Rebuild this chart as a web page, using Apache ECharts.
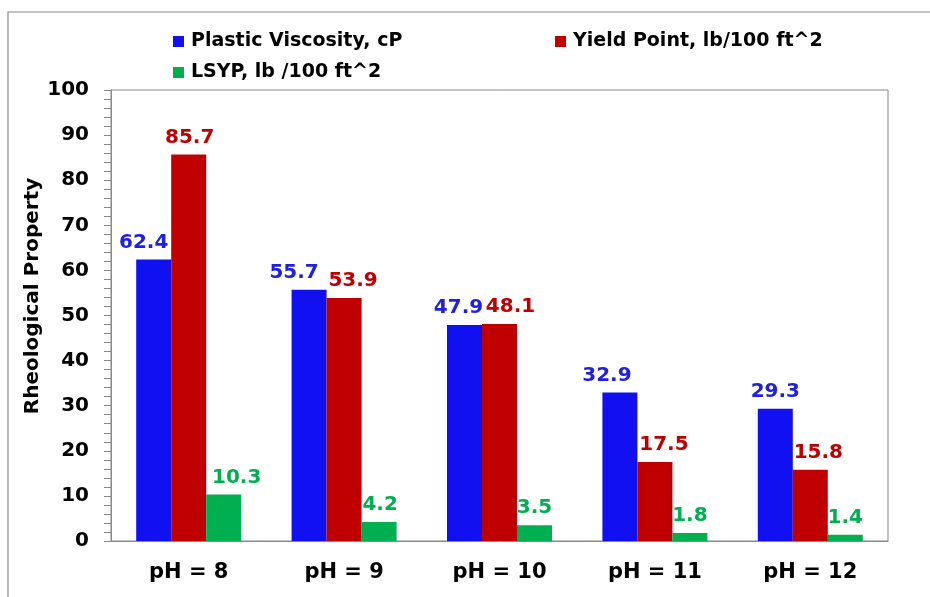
<!DOCTYPE html>
<html>
<head>
<meta charset="utf-8">
<script src="https://cdn.jsdelivr.net/npm/echarts@6/dist/echarts.min.js"></script>
<style>
  html, body { margin: 0; padding: 0; background: #fff; }
  #chart { width: 930px; height: 597px; }
</style>
</head>
<body>
<div id="chart"></div>
<script>
// Rheological properties of the mud at different pH levels
const categories = ['pH = 8', 'pH = 9', 'pH = 10', 'pH = 11', 'pH = 12'];
const plasticViscosity = [62.4, 55.7, 47.9, 32.9, 29.3];
const yieldPoint = [85.7, 53.9, 48.1, 17.5, 15.8];
const lsyp = [10.3, 4.2, 3.5, 1.8, 1.4];
const yTicks = [0, 10, 20, 30, 40, 50, 60, 70, 80, 90, 100];

const seriesNames = ['Plastic Viscosity, cP', 'Yield Point, lb/100 ft^2', 'LSYP, lb /100 ft^2'];
const colors = ['#1010F0', '#C00000', '#00B050'];
const labelColors = ['#2020E0', '#C00000', '#00B050'];
// horizontal nudges so neighbouring value labels do not collide
const labelShift = [
  [-10, -15, -6, -13, 0],
  [1, 9, 11, 9, 8],
  [13, 1, 0, 0, 0]
];
const FONT = 'DejaVu Sans';

const chart = echarts.init(document.getElementById('chart'));

function barSeries(i, values) {
  return {
    name: seriesNames[i],
    type: 'bar',
    data: values.map((v, k) => ({ value: v, label: { offset: [labelShift[i][k], 0] } })),
    barWidth: 35,
    barGap: '0%',
    itemStyle: { color: colors[i] },
    label: {
      show: true,
      position: 'top',
      distance: 7,
      color: labelColors[i],
      fontFamily: FONT,
      fontWeight: 'bold',
      fontSize: 20,
      formatter: p => p.value.toFixed(1)
    }
  };
}

const legendText = { fontFamily: FONT, fontWeight: 'bold', fontSize: 19, color: '#000', padding: [0, 0, 0, 2] };
function legendAt(name, left, top) {
  return {
    data: [name], left: left, top: top,
    icon: 'rect', itemWidth: 11, itemHeight: 11,
    textStyle: legendText
  };
}

chart.setOption({
  animation: false,
  backgroundColor: '#fff',
  graphic: [{
    type: 'rect',
    shape: { x: 8, y: 12, width: 940, height: 620 },
    style: { fill: 'none', stroke: '#8c8c8c', lineWidth: 1.2 },
    silent: true
  }, {
    type: 'text',
    x: 33, y: 296,
    rotation: Math.PI / 2,
    style: {
      text: 'Rheological Property',
      fontFamily: FONT, fontWeight: 'bold', fontSize: 20, fill: '#000',
      align: 'center', verticalAlign: 'middle'
    },
    silent: true
  }],
  legend: [
    legendAt(seriesNames[0], 168, 27),
    legendAt(seriesNames[1], 550, 27),
    legendAt(seriesNames[2], 168, 58)
  ],
  grid: { left: 111, top: 90, right: 42, bottom: 56, containLabel: false, show: true, borderColor: '#888', borderWidth: 1 },
  xAxis: {
    type: 'category',
    data: categories,
    axisLine: { lineStyle: { color: '#888' } },
    axisTick: { show: false },
    axisLabel: { fontFamily: FONT, fontWeight: 'bold', fontSize: 21, color: '#000', margin: 21 }
  },
  yAxis: {
    type: 'value',
    min: yTicks[0], max: yTicks[yTicks.length - 1], interval: 10,
    axisLine: { show: true, lineStyle: { color: '#888' } },
    axisTick: { show: true, length: 7, lineStyle: { color: '#888' } },
    minorTick: { show: true, splitNumber: 5, length: 7, lineStyle: { color: '#888' } },
    splitLine: { show: false },
    axisLabel: { fontFamily: FONT, fontWeight: 'bold', fontSize: 20, color: '#000', margin: 22 }
  },
  series: [
    barSeries(0, plasticViscosity),
    barSeries(1, yieldPoint),
    barSeries(2, lsyp)
  ]
});
</script>
</body>
</html>
